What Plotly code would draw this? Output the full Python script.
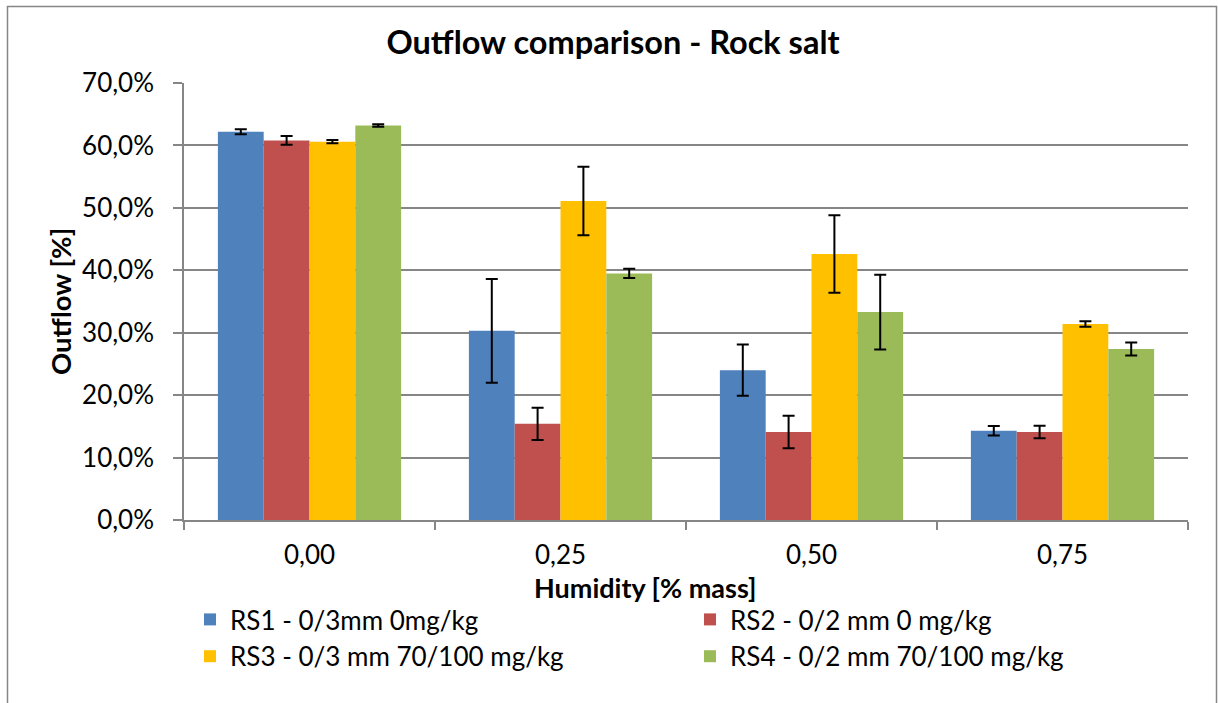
import plotly.graph_objects as go

categories = ["0,00", "0,25", "0,50", "0,75"]
series_names = [
    "RS1 - 0/3mm 0mg/kg",
    "RS2 - 0/2 mm 0 mg/kg",
    "RS3 - 0/3 mm 70/100 mg/kg",
    "RS4 - 0/2 mm 70/100 mg/kg",
]
rs1 = [0.622, 0.303, 0.240, 0.143]
rs2 = [0.608, 0.154, 0.141, 0.141]
rs3 = [0.606, 0.511, 0.426, 0.314]
rs4 = [0.632, 0.395, 0.333, 0.274]
rs1_err = [0.004, 0.083, 0.041, 0.0075]
rs2_err = [0.007, 0.026, 0.026, 0.010]
rs3_err = [0.0025, 0.055, 0.062, 0.0045]
rs4_err = [0.002, 0.0075, 0.060, 0.0105]
colors = ["#4F81BD", "#C0504D", "#FFC000", "#9BBB59"]

W, H = 1218, 703
L, R, T, B = 184, 30, 83, 183
PW, PH = W - L - R, H - T - B

def px(x):
    return (x - L) / PW

def py(y):
    return (H - B - y) / PH

FONT = "Lato"
GRID = "#868686"
FS = 26

fig = go.Figure()
for name, vals, errs, col in zip(series_names, [rs1, rs2, rs3, rs4],
                                 [rs1_err, rs2_err, rs3_err, rs4_err], colors):
    fig.add_trace(go.Bar(
        x=categories, y=vals, name=name,
        marker=dict(color=col, line=dict(width=0)),
        error_y=dict(type="data", array=errs, symmetric=True,
                     color="black", thickness=2, width=6),
    ))

fig.update_layout(
    width=W, height=H,
    margin=dict(l=L, r=R, t=T, b=B, autoexpand=False),
    paper_bgcolor="white", plot_bgcolor="white",
    separators=",.",
    barmode="group", bargap=0.27, bargroupgap=0,
    font=dict(family=FONT, size=FS, color="black"),
    title=dict(text="<b>Outflow comparison - Rock salt</b>",
               x=613 / W, xanchor="center", xref="container",
               y=1 - 43 / H, yanchor="middle", yref="container",
               font=dict(family=FONT, size=32.5, color="black")),
    xaxis=dict(
        type="category", tickson="boundaries", ticks="outside", ticklen=8,
        tickcolor=GRID, tickwidth=1.5, showline=True, linecolor=GRID, linewidth=1.5,
        showgrid=False, ticklabelstandoff=11,
        tickfont=dict(family=FONT, size=FS, color="black"),
    ),
    yaxis=dict(
        range=[0, 0.70], dtick=0.10, tickformat=".1%",
        ticks="outside", ticklen=9, tickcolor=GRID, tickwidth=1.5,
        showline=True, linecolor=GRID, linewidth=1.5,
        showgrid=True, gridcolor=GRID, gridwidth=1.5,
        zeroline=False, ticklabelstandoff=14,
        tickfont=dict(family=FONT, size=FS, color="black"),
    ),
    showlegend=True,
    legend=dict(
        orientation="h", x=px(190), xanchor="left", y=py(596), yanchor="top",
        entrywidth=455, entrywidthmode="pixels",
        font=dict(family=FONT, size=FS, color="black"),
        bgcolor="rgba(0,0,0,0)", traceorder="normal",
    ),
    annotations=[
        dict(text="<b>Humidity [% mass]</b>", xref="paper", yref="paper",
             x=px(645), y=py(587), xanchor="center", yanchor="middle",
             showarrow=False, font=dict(family=FONT, size=27, color="black")),
        dict(text="<b>Outflow [%]</b>", xref="paper", yref="paper",
             x=px(60), y=py(302), xanchor="center", yanchor="middle",
             textangle=-90, showarrow=False,
             font=dict(family=FONT, size=27.5, color="black")),
    ],
    shapes=[
        dict(type="rect", xref="paper", yref="paper",
             x0=px(7.5), x1=px(1216.5), y0=py(720), y1=py(6.5),
             line=dict(color=GRID, width=1.5), fillcolor="rgba(0,0,0,0)",
             layer="below"),
    ],
)

fig.write_html("out.html", config={"displayModeBar": False},
               post_script="document.body.style.margin='0px';")
